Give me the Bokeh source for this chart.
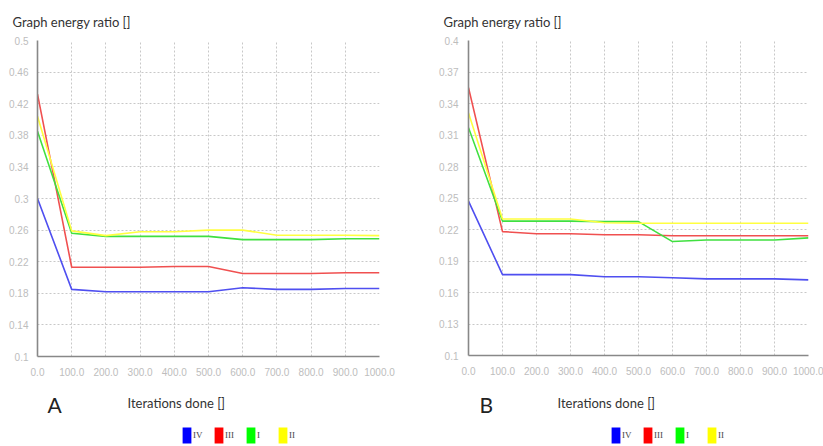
from bokeh.plotting import figure
from bokeh.layouts import row, column
from bokeh.models import FixedTicker, Label, Legend, LegendItem
from bokeh.embed import file_html
from bokeh.resources import INLINE

iterations = [0, 100, 200, 300, 400, 500, 600, 700, 800, 900, 1000]
x_tick_labels = ["0.0", "100.0", "200.0", "300.0", "400.0", "500.0",
                 "600.0", "700.0", "800.0", "900.0", "1000.0"]
series_names = ["IV", "III", "I", "II"]

# Panel A
a_ticks = [0.1, 0.14, 0.18, 0.22, 0.26, 0.3, 0.34, 0.38, 0.42, 0.46, 0.5]
a_tick_labels = ["0.1", "0.14", "0.18", "0.22", "0.26", "0.3", "0.34",
                 "0.38", "0.42", "0.46", "0.5"]
a_IV = [0.300, 0.185, 0.182, 0.182, 0.182, 0.182, 0.187, 0.185, 0.185, 0.186, 0.186]
a_III = [0.432, 0.213, 0.213, 0.213, 0.214, 0.214, 0.205, 0.205, 0.205, 0.206, 0.206]
a_I = [0.385, 0.256, 0.252, 0.252, 0.252, 0.252, 0.248, 0.248, 0.248, 0.249, 0.249]
a_II = [0.404, 0.259, 0.253, 0.258, 0.258, 0.260, 0.260, 0.2535, 0.2535, 0.2535, 0.253]

# Panel B
b_ticks = [0.1, 0.13, 0.16, 0.19, 0.22, 0.25, 0.28, 0.31, 0.34, 0.37, 0.4]
b_tick_labels = ["0.1", "0.13", "0.16", "0.19", "0.22", "0.25", "0.28",
                 "0.31", "0.34", "0.37", "0.4"]
b_IV = [0.247, 0.177, 0.177, 0.177, 0.175, 0.175, 0.174, 0.173, 0.173, 0.173, 0.172]
b_III = [0.355, 0.218, 0.216, 0.216, 0.215, 0.215, 0.214, 0.214, 0.214, 0.214, 0.214]
b_I = [0.317, 0.228, 0.228, 0.228, 0.2275, 0.2275, 0.2085, 0.210, 0.210, 0.210, 0.212]
b_II = [0.331, 0.230, 0.230, 0.230, 0.2265, 0.226, 0.226, 0.226, 0.226, 0.226, 0.226]

line_colors = ["#4f4ff0", "#f05050", "#40e040", "#ffff40"]
legend_colors = ["#0000ff", "#ff0000", "#00ff00", "#ffff00"]

SANS = "Lato"
CHART_H = 380
FOOT_H = 66


def make_chart(width, border_left, border_right, frame_h, y_ticks, y_labels, series, y_std):
    top = 38
    bottom = CHART_H - top - frame_h
    p = figure(width=width, height=CHART_H, output_backend="svg", toolbar_location=None,
               min_border_left=border_left, min_border_right=border_right,
               min_border_top=top, min_border_bottom=bottom,
               x_range=(0, 1000), y_range=(y_ticks[0], y_ticks[-1]),
               title="Graph energy ratio []")
    p.outline_line_color = None
    p.title.align = "left"
    p.title.offset = -25
    p.title.text_font = SANS
    p.title.text_font_size = "13px"
    p.title.text_font_style = "normal"
    p.title.text_color = "#333333"
    p.title.standoff = 22

    p.xaxis.ticker = FixedTicker(ticks=iterations)
    p.xaxis.major_label_overrides = {t: l for t, l in zip(iterations, x_tick_labels)}
    p.yaxis.ticker = FixedTicker(ticks=y_ticks)
    p.yaxis.major_label_overrides = {t: l for t, l in zip(y_ticks, y_labels)}
    for ax in (p.xaxis, p.yaxis):
        ax.axis_line_color = "#888888"
        ax.axis_line_width = 1.6
        ax.major_tick_line_color = None
        ax.minor_tick_line_color = None
        ax.major_tick_out = 0
        ax.major_tick_in = 0
        ax.major_label_text_color = "#bdbdbd"
        ax.major_label_text_font = "Liberation Sans"
        ax.major_label_text_font_size = "10px"
    p.xaxis.major_label_standoff = 11
    p.yaxis.major_label_standoff = y_std

    p.xgrid.ticker = FixedTicker(ticks=iterations)
    p.ygrid.ticker = FixedTicker(ticks=y_ticks)
    for g in (p.xgrid, p.ygrid):
        g.grid_line_color = "#c8c8c8"
        g.grid_line_dash = "2 2"
        g.grid_line_width = 1

    for vals, c in zip(series, line_colors):
        p.line(iterations, vals, line_color=c, line_width=1.6)
    return p


def make_footer(width, series, letter, letter_x, xlab_x, legend_x):
    # positions are measured from the chart frame's left edge (column aligns frames)
    f = figure(width=width, height=FOOT_H, output_backend="svg", toolbar_location=None,
               min_border=0, x_axis_location=None, y_axis_location=None,
               x_range=(0, width), y_range=(0, FOOT_H))
    f.grid.visible = False
    f.outline_line_color = None

    # zero-height areas built from each series: invisible, they only give the legend its swatch
    items = []
    for name, vals, c in zip(series_names, series, legend_colors):
        r = f.varea(x=iterations, y1=vals, y2=vals, fill_color=c)
        items.append(LegendItem(label=name, renderers=[r]))
    leg = Legend(items=items, orientation="horizontal", location=(legend_x, 1),
                 glyph_width=11, glyph_height=20, label_standoff=1,
                 label_width=13, spacing=7, padding=0, margin=0,
                 border_line_color=None, background_fill_alpha=0,
                 label_text_font="Liberation Serif", label_text_font_size="9px",
                 label_text_color="#444444")
    f.add_layout(leg)

    f.add_layout(Label(x=xlab_x, y=43.3, x_units="screen", y_units="screen",
                       text="Iterations done []", text_font=SANS,
                       text_font_size="13px", text_color="#333333",
                       text_baseline="middle", text_align="left"))
    f.add_layout(Label(x=letter_x, y=42.5, x_units="screen", y_units="screen",
                       text=letter, text_font=SANS,
                       text_font_size="21px", text_color="#222222",
                       text_baseline="middle", text_align="left"))
    return f


sa = [a_IV, a_III, a_I, a_II]
sb = [b_IV, b_III, b_I, b_II]
pa = make_chart(411, 37, 32, 318, a_ticks, a_tick_labels, sa, 9)
fa = make_footer(411, sa, "A", 10, 90, 144)
pb = make_chart(412, 57, 15, 317, b_ticks, b_tick_labels, sb, 10)
fb = make_footer(412, sb, "B", 11, 89, 142)

layout = row(column(pa, fa), column(pb, fb))
open("out.html", "w").write(file_html(layout, INLINE))
